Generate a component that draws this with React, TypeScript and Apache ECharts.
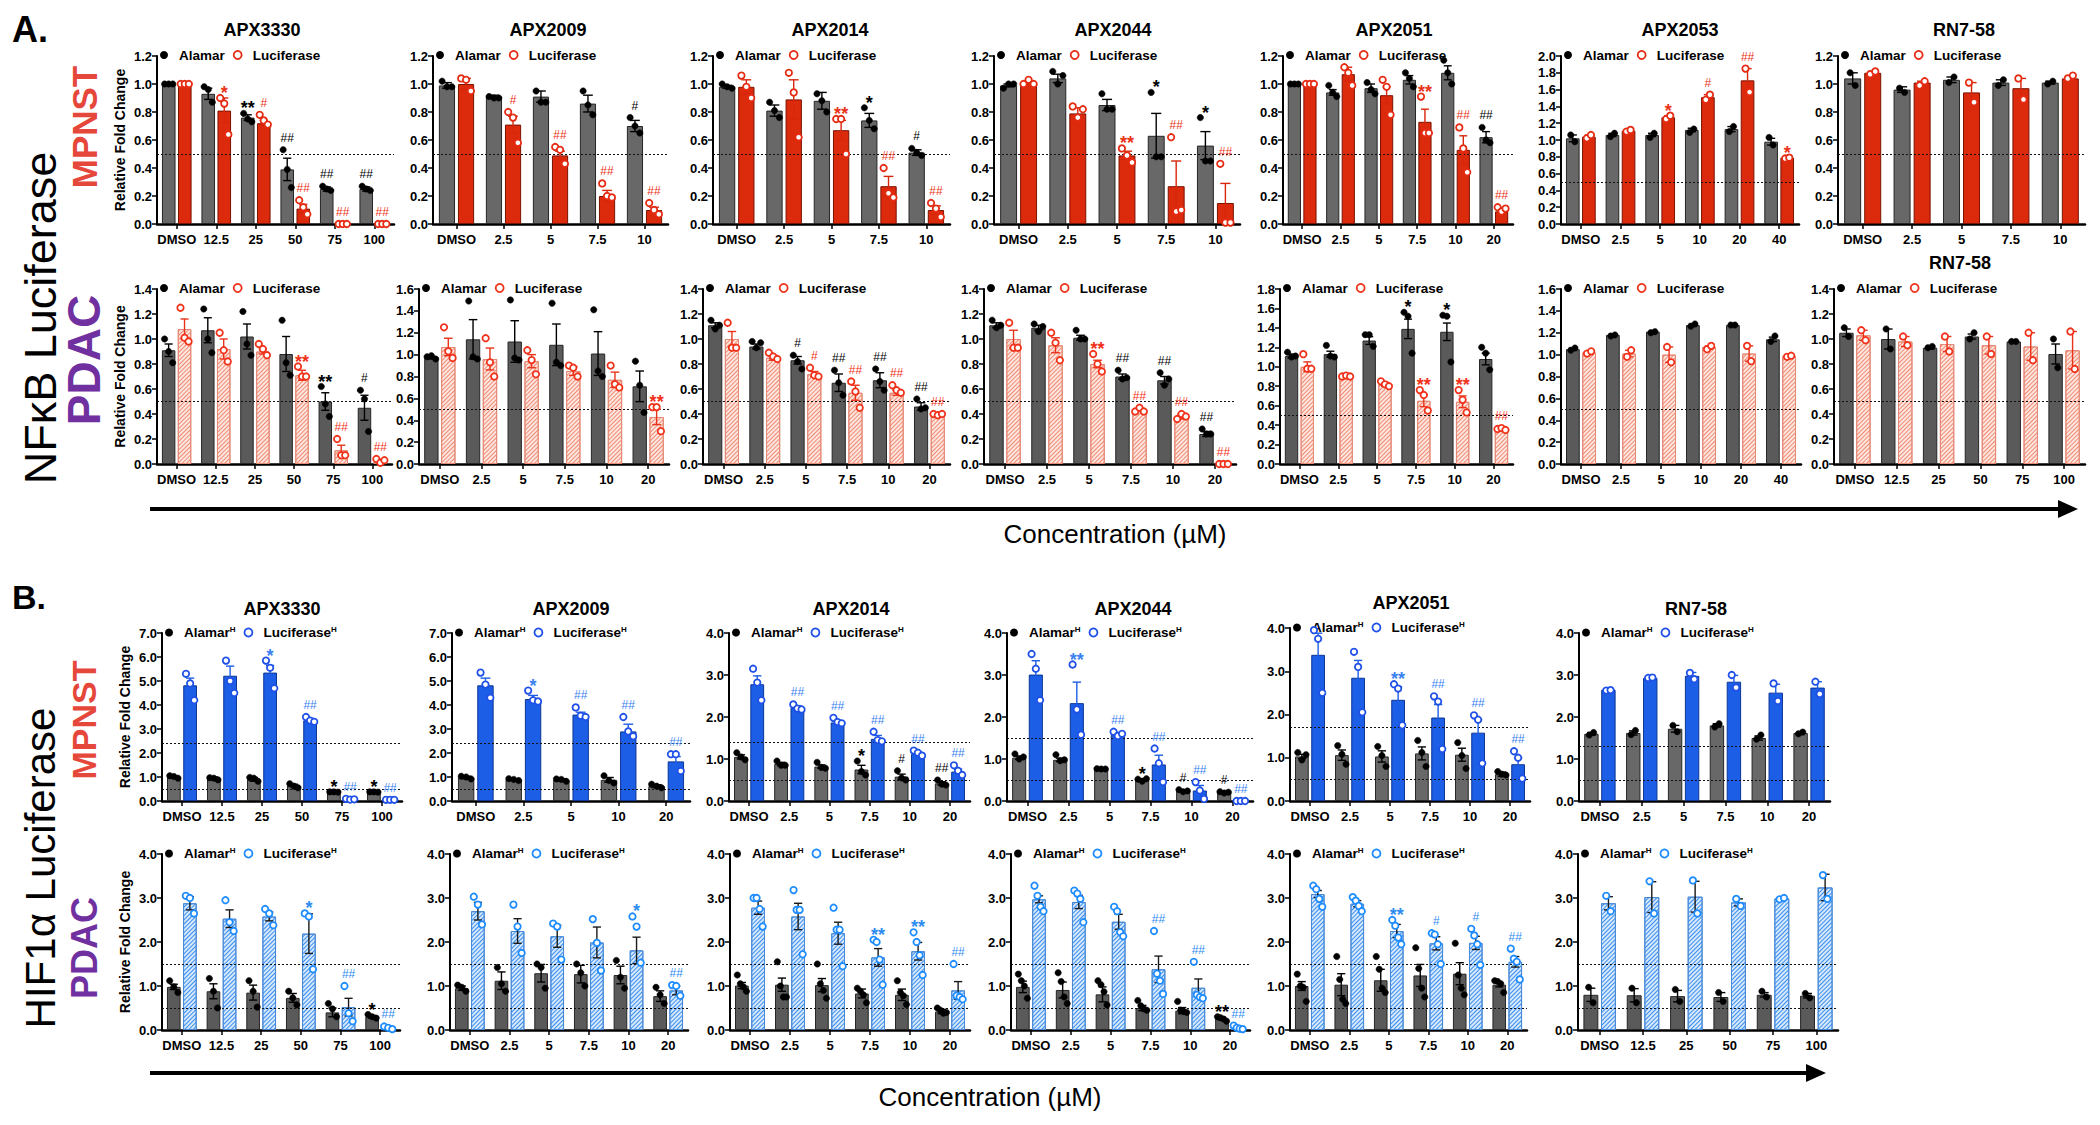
import React, { useEffect, useRef } from "react";
import * as echarts from "echarts";

// ---------------- categories ----------------
const catsHigh = ["DMSO", "12.5", "25", "50", "75", "100"];
const cats5 = ["DMSO", "2.5", "5", "7.5", "10"];
const cats6 = ["DMSO", "2.5", "5", "7.5", "10", "20"];
const cats2053 = ["DMSO", "2.5", "5", "10", "20", "40"];
const cats2009H = ["DMSO", "2.5", "5", "10", "20"];

// ---------------- NFκB luciferase, MPNST ----------------
const nm3330AlamarMean = [1.0, 0.93, 0.76, 0.39, 0.25, 0.25];
const nm3330AlamarSem = [0, 0.04, 0.02, 0.08, 0.015, 0.015];
const nm3330AlamarPts = [[1, 1, 1], [0.98, 0.96, 0.87], [0.79, 0.75, 0.73], [0.53, 0.39, 0.26], [0.27, 0.25, 0.24], [0.27, 0.25, 0.24]];
const nm3330LucMean = [1.0, 0.81, 0.72, 0.11, 0.0, 0.0];
const nm3330LucSem = [0, 0.09, 0.02, 0.03, 0, 0];
const nm3330LucPts = [[1, 1, 1], [0.9, 0.86, 0.64], [0.78, 0.74, 0.71], [0.17, 0.12, 0.07], [0, 0, 0], [0, 0, 0]];
const nm3330AlamarSig = ["", "", "**", "##", "##", "##"];
const nm3330LucSig = ["", "*", "#", "##", "##", "##"];

const nm2009AlamarMean = [0.99, 0.91, 0.91, 0.86, 0.7];
const nm2009AlamarSem = [0.02, 0.01, 0.04, 0.06, 0.04];
const nm2009AlamarPts = [[1.02, 0.98, 0.98], [0.91, 0.9, 0.9], [0.95, 0.87, 0.87], [0.95, 0.85, 0.78], [0.76, 0.7, 0.65]];
const nm2009LucMean = [1.0, 0.71, 0.49, 0.2, 0.1];
const nm2009LucSem = [0.04, 0.06, 0.03, 0.04, 0.02];
const nm2009LucPts = [[1.04, 1.03, 0.95], [0.8, 0.76, 0.58], [0.55, 0.53, 0.43], [0.29, 0.2, 0.19], [0.15, 0.1, 0.07]];
const nm2009AlamarSig = ["", "", "", "", "#"];
const nm2009LucSig = ["", "#", "##", "##", "##"];

const nm2014AlamarMean = [0.98, 0.81, 0.88, 0.74, 0.51];
const nm2014AlamarSem = [0.01, 0.04, 0.06, 0.05, 0.02];
const nm2014AlamarPts = [[1.0, 0.98, 0.97], [0.87, 0.81, 0.76], [0.93, 0.88, 0.8], [0.83, 0.74, 0.68], [0.54, 0.51, 0.49]];
const nm2014LucMean = [0.98, 0.89, 0.67, 0.27, 0.1];
const nm2014LucSem = [0.05, 0.14, 0.07, 0.07, 0.03];
const nm2014LucPts = [[1.06, 0.98, 0.9], [1.08, 0.94, 0.62], [0.75, 0.75, 0.5], [0.4, 0.22, 0.19], [0.15, 0.11, 0.05]];
const nm2014AlamarSig = ["", "", "", "*", "#"];
const nm2014LucSig = ["", "", "**", "##", "##"];

const nm2044AlamarMean = [0.99, 1.04, 0.85, 0.63, 0.56];
const nm2044AlamarSem = [0.01, 0.03, 0.04, 0.16, 0.1];
const nm2044AlamarPts = [[0.97, 1.0, 1.0], [1.09, 1.0, 1.06], [0.93, 0.82, 0.82], [0.94, 0.48, 0.48], [0.76, 0.45, 0.45]];
const nm2044LucMean = [1.01, 0.79, 0.49, 0.27, 0.15];
const nm2044LucSem = [0.01, 0.04, 0.03, 0.18, 0.14];
const nm2044LucPts = [[1.0, 1.03, 1.0], [0.84, 0.76, 0.82], [0.54, 0.49, 0.44], [0.62, 0.09, 0.1], [0.43, 0.01, 0.01]];
const nm2044AlamarSig = ["", "", "", "*", "*"];
const nm2044LucSig = ["", "", "**", "##", "##"];

const nm2051AlamarMean = [1.0, 0.94, 0.97, 1.03, 1.08, 0.62];
const nm2051AlamarSem = [0, 0.02, 0.03, 0.03, 0.05, 0.04];
const nm2051AlamarPts = [[1, 1, 1], [0.99, 0.94, 0.91], [1.01, 0.96, 0.93], [1.08, 1.04, 0.98], [1.17, 1.08, 1.0], [0.69, 0.6, 0.58]];
const nm2051LucMean = [1.0, 1.07, 0.92, 0.73, 0.53, 0.09];
const nm2051LucSem = [0, 0.05, 0.06, 0.09, 0.1, 0.02];
const nm2051LucPts = [[1, 1, 1], [1.12, 1.08, 0.99], [1.03, 0.98, 0.78], [0.91, 0.65, 0.65], [0.69, 0.54, 0.37], [0.12, 0.09, 0.11]];
const nm2051AlamarSig = ["", "", "", "", "", "##"];
const nm2051LucSig = ["", "", "", "**", "##", "##"];

const nm2053AlamarMean = [1.02, 1.06, 1.06, 1.12, 1.13, 0.98];
const nm2053AlamarSem = [0.04, 0.02, 0.02, 0.02, 0.03, 0.04];
const nm2053AlamarPts = [[1.06, 0.98], [1.04, 1.08], [1.03, 1.08], [1.09, 1.13], [1.1, 1.16], [1.03, 0.94]];
const nm2053LucMean = [1.04, 1.11, 1.27, 1.51, 1.71, 0.79];
const nm2053LucSem = [0.02, 0.01, 0.02, 0.03, 0.14, 0.01];
const nm2053LucPts = [[1.02, 1.06], [1.1, 1.12], [1.25, 1.29], [1.48, 1.54], [1.85, 1.57], [0.78, 0.79]];
const nm2053LucSig = ["", "", "*", "#", "##", "*"];

const nm758AlamarMean = [1.04, 0.96, 1.03, 1.01, 1.01];
const nm758AlamarSem = [0.04, 0.02, 0.02, 0.02, 0.01];
const nm758AlamarPts = [[1.08, 0.99], [0.97, 0.94], [1.01, 1.05], [0.99, 1.03], [1.0, 1.02]];
const nm758LucMean = [1.08, 1.01, 0.94, 0.97, 1.04];
const nm758LucSem = [0.01, 0.01, 0.07, 0.07, 0.01];
const nm758LucPts = [[1.07, 1.09], [0.99, 1.02], [1.01, 0.87], [1.04, 0.89], [1.04, 1.06]];

// ---------------- NFκB luciferase, PDAC ----------------
const np3330AlamarMean = [0.91, 1.07, 1.02, 0.88, 0.5, 0.45];
const np3330AlamarSem = [0.05, 0.1, 0.1, 0.14, 0.07, 0.1];
const np3330AlamarPts = [[1.0, 0.9, 0.81], [1.24, 1.0, 0.89], [1.22, 0.96, 0.87], [1.15, 0.81, 0.71], [0.62, 0.48, 0.38], [0.59, 0.52, 0.26]];
const np3330LucMean = [1.08, 0.92, 0.9, 0.71, 0.11, 0.02];
const np3330LucSem = [0.08, 0.08, 0.02, 0.04, 0.04, 0.01];
const np3330LucPts = [[1.25, 1.01, 0.98], [1.05, 0.91, 0.82], [0.96, 0.92, 0.87], [0.78, 0.7, 0.7], [0.2, 0.07, 0.07], [0.04, 0.01, 0.03]];
const np3330AlamarSig = ["", "", "", "", "**", "#"];
const np3330LucSig = ["", "", "", "**", "##", "##"];

const np2009AlamarMean = [0.97, 1.14, 1.12, 1.09, 1.01, 0.71];
const np2009AlamarSem = [0.01, 0.18, 0.19, 0.19, 0.2, 0.14];
const np2009AlamarPts = [[0.98, 0.99, 0.96], [1.49, 0.98, 0.96], [1.5, 0.97, 0.95], [1.47, 0.93, 0.9], [1.41, 0.85, 0.8], [0.94, 0.72, 0.47]];
const np2009LucMean = [1.07, 0.96, 0.94, 0.85, 0.77, 0.43];
const np2009LucSem = [0.08, 0.1, 0.06, 0.04, 0.07, 0.07];
const np2009LucPts = [[1.25, 1.03, 0.97], [1.15, 0.93, 0.8], [1.04, 0.95, 0.82], [0.9, 0.88, 0.8], [0.9, 0.73, 0.7], [0.52, 0.52, 0.3]];
const np2009LucSig = ["", "", "", "", "", "**"];

const np2014AlamarMean = [1.11, 0.94, 0.83, 0.65, 0.67, 0.46];
const np2014AlamarSem = [0.02, 0.02, 0.03, 0.07, 0.06, 0.03];
const np2014AlamarPts = [[1.15, 1.08, 1.11], [0.98, 0.93, 0.97], [0.87, 0.82, 0.76], [0.75, 0.65, 0.55], [0.76, 0.66, 0.59], [0.52, 0.44, 0.45]];
const np2014LucMean = [1.0, 0.85, 0.72, 0.57, 0.57, 0.4];
const np2014LucSem = [0.06, 0.02, 0.02, 0.06, 0.02, 0.01];
const np2014LucPts = [[1.13, 0.93, 0.93], [0.89, 0.86, 0.84], [0.77, 0.71, 0.7], [0.66, 0.58, 0.45], [0.63, 0.59, 0.57], [0.4, 0.39, 0.4]];
const np2014AlamarSig = ["", "", "#", "##", "##", "##"];
const np2014LucSig = ["", "", "#", "##", "##", "##"];

const np2044AlamarMean = [1.11, 1.09, 1.01, 0.7, 0.67, 0.24];
const np2044AlamarSem = [0.02, 0.02, 0.02, 0.02, 0.03, 0.02];
const np2044AlamarPts = [[1.15, 1.09, 1.11], [1.12, 1.06, 1.1], [1.07, 1.0, 1.0], [0.75, 0.68, 0.69], [0.73, 0.63, 0.68], [0.28, 0.24, 0.24]];
const np2044LucMean = [1.0, 0.95, 0.8, 0.43, 0.38, 0.0];
const np2044LucSem = [0.07, 0.06, 0.03, 0.01, 0.02, 0];
const np2044LucPts = [[1.13, 0.93, 0.93], [1.05, 0.97, 0.83], [0.88, 0.8, 0.74], [0.42, 0.45, 0.42], [0.36, 0.4, 0.38], [0, 0, 0]];
const np2044AlamarSig = ["", "", "", "##", "##", "##"];
const np2044LucSig = ["", "", "**", "##", "##", "##"];

const np2051AlamarMean = [1.11, 1.13, 1.27, 1.39, 1.36, 1.08];
const np2051AlamarSem = [0.02, 0.03, 0.04, 0.1, 0.09, 0.06];
const np2051AlamarPts = [[1.15, 1.1, 1.11], [1.22, 1.11, 1.1], [1.33, 1.33, 1.21], [1.56, 1.52, 1.14], [1.53, 1.52, 1.05], [1.2, 1.14, 0.97]];
const np2051LucMean = [1.0, 0.9, 0.82, 0.65, 0.64, 0.35];
const np2051LucSem = [0.05, 0.01, 0.02, 0.06, 0.06, 0.01];
const np2051LucPts = [[1.13, 0.98, 0.98], [0.9, 0.91, 0.9], [0.85, 0.82, 0.8], [0.76, 0.71, 0.55], [0.76, 0.66, 0.53], [0.36, 0.37, 0.35]];
const np2051AlamarSig = ["", "", "", "*", "*", ""];
const np2051LucSig = ["", "", "", "**", "**", "##"];

const np2053AlamarMean = [1.05, 1.18, 1.21, 1.27, 1.27, 1.14];
const np2053AlamarSem = [0.01, 0.01, 0.01, 0.01, 0.01, 0.02];
const np2053AlamarPts = [[1.04, 1.06], [1.17, 1.18], [1.2, 1.21], [1.26, 1.28], [1.27, 1.27], [1.12, 1.17]];
const np2053LucMean = [1.02, 1.01, 1.0, 1.07, 1.01, 0.99];
const np2053LucSem = [0.01, 0.03, 0.07, 0.01, 0.07, 0.01];
const np2053LucPts = [[1.01, 1.03], [0.98, 1.04], [1.07, 0.93], [1.05, 1.08], [1.08, 0.94], [0.98, 0.99]];

const np758AlamarMean = [1.05, 1.0, 0.93, 1.02, 0.98, 0.88];
const np758AlamarSem = [0.03, 0.08, 0.01, 0.02, 0.01, 0.08];
const np758AlamarPts = [[1.09, 1.02], [1.08, 0.92], [0.93, 0.94], [1.0, 1.05], [0.98, 0.98], [1.0, 0.77]];
const np758LucMean = [1.03, 0.98, 0.96, 0.95, 0.94, 0.91];
const np758LucSem = [0.04, 0.04, 0.06, 0.07, 0.11, 0.15];
const np758LucPts = [[1.07, 0.99], [1.02, 0.95], [1.02, 0.9], [1.02, 0.88], [1.05, 0.83], [1.06, 0.76]];

// ---------------- HIF1α luciferase, MPNST ----------------
const hm3330AlamarMean = [1.0, 0.95, 0.9, 0.65, 0.38, 0.38];
const hm3330AlamarSem = [0.05, 0.05, 0.08, 0.05, 0.02, 0.02];
const hm3330AlamarPts = [[1.05, 1.02, 0.95], [0.97, 0.95, 0.88], [0.98, 0.95, 0.82], [0.72, 0.62, 0.55], [0.38, 0.38, 0.37], [0.38, 0.38, 0.37]];
const hm3330LucMean = [4.82, 5.22, 5.35, 3.36, 0.07, 0.05];
const hm3330LucSem = [0.3, 0.4, 0.3, 0.08, 0.01, 0.01];
const hm3330LucPts = [[5.3, 4.9, 4.2], [5.85, 5.0, 4.5], [5.85, 5.55, 4.7], [3.5, 3.35, 3.3], [0.09, 0.06, 0.07], [0.05, 0.05, 0.05]];
const hm3330AlamarSig = ["", "", "", "", "*", "*"];
const hm3330LucSig = ["", "", "*", "##", "##", "##"];

const hm2009AlamarMean = [0.98, 0.9, 0.88, 0.88, 0.62];
const hm2009AlamarSem = [0.05, 0.03, 0.05, 0.1, 0.06];
const hm2009AlamarPts = [[1.03, 1.0, 0.92], [0.93, 0.9, 0.85], [0.92, 0.9, 0.82], [1.05, 0.85, 0.75], [0.7, 0.62, 0.55]];
const hm2009LucMean = [4.82, 4.25, 3.6, 2.9, 1.65];
const hm2009LucSem = [0.3, 0.15, 0.1, 0.3, 0.2];
const hm2009LucPts = [[5.35, 4.85, 4.3], [4.6, 4.2, 4.15], [3.9, 3.55, 3.5], [3.5, 2.9, 2.7], [1.95, 1.95, 1.25]];
const hm2009LucSig = ["", "*", "##", "##", "##"];

const hm2014AlamarMean = [1.05, 0.88, 0.82, 0.75, 0.58, 0.42];
const hm2014AlamarSem = [0.05, 0.04, 0.04, 0.1, 0.06, 0.04];
const hm2014AlamarPts = [[1.15, 1.05, 0.98], [0.95, 0.85, 0.85], [0.92, 0.8, 0.78], [0.95, 0.7, 0.62], [0.72, 0.55, 0.5], [0.5, 0.4, 0.38]];
const hm2014LucMean = [2.78, 2.22, 1.87, 1.48, 1.12, 0.7];
const hm2014LucSem = [0.2, 0.05, 0.05, 0.08, 0.05, 0.06];
const hm2014LucPts = [[3.15, 2.82, 2.4], [2.3, 2.2, 2.18], [1.98, 1.88, 1.85], [1.65, 1.45, 1.42], [1.2, 1.15, 1.08], [0.85, 0.72, 0.62]];
const hm2014AlamarSig = ["", "", "", "*", "#", "##"];
const hm2014LucSig = ["", "##", "##", "##", "##", "##"];

const hm2044AlamarMean = [1.03, 0.98, 0.76, 0.5, 0.24, 0.2];
const hm2044AlamarSem = [0.04, 0.04, 0.01, 0.03, 0.02, 0.02];
const hm2044AlamarPts = [[1.12, 1.0, 1.05], [1.1, 0.96, 0.98], [0.77, 0.76, 0.76], [0.52, 0.47, 0.53], [0.27, 0.22, 0.24], [0.22, 0.19, 0.21]];
const hm2044LucMean = [3.01, 2.33, 1.58, 0.87, 0.25, 0.0];
const hm2044LucSem = [0.33, 0.5, 0.05, 0.22, 0.12, 0];
const hm2044LucPts = [[3.5, 3.15, 2.4], [3.25, 2.18, 1.58], [1.65, 1.55, 1.6], [1.25, 0.9, 0.45], [0.45, 0.25, 0.05], [0, 0, 0]];
const hm2044AlamarSig = ["", "", "", "*", "#", "#"];
const hm2044LucSig = ["", "**", "##", "##", "##", "##"];

const hm2051AlamarMean = [1.03, 1.06, 1.03, 1.1, 1.07, 0.62];
const hm2051AlamarSem = [0.05, 0.12, 0.13, 0.15, 0.15, 0.05];
const hm2051AlamarPts = [[1.12, 0.95, 1.07], [1.28, 1.08, 0.85], [1.26, 1.05, 0.8], [1.4, 1.12, 0.8], [1.35, 1.05, 0.75], [0.68, 0.62, 0.6]];
const hm2051LucMean = [3.38, 2.85, 2.34, 1.93, 1.58, 0.85];
const hm2051LucSem = [0.5, 0.4, 0.3, 0.3, 0.3, 0.15];
const hm2051LucPts = [[3.95, 3.75, 2.5], [3.45, 3.1, 2.05], [2.7, 2.6, 1.75], [2.42, 2.3, 1.2], [1.98, 1.88, 0.87], [1.15, 1.0, 0.52]];
const hm2051LucSig = ["", "", "**", "##", "##", "##"];

const hm758AlamarMean = [1.6, 1.62, 1.72, 1.8, 1.5, 1.62];
const hm758AlamarSem = [0.03, 0.05, 0.08, 0.04, 0.05, 0.02];
const hm758AlamarPts = [[1.57, 1.63], [1.58, 1.68], [1.8, 1.65], [1.76, 1.84], [1.47, 1.57], [1.6, 1.64]];
const hm758LucMean = [2.65, 2.93, 2.98, 2.84, 2.58, 2.7];
const hm758LucSem = [0.01, 0.01, 0.08, 0.15, 0.2, 0.14];
const hm758LucPts = [[2.63, 2.64], [2.93, 2.94], [3.05, 2.9], [3.0, 2.7], [2.8, 2.38], [2.84, 2.55]];

// ---------------- HIF1α luciferase, PDAC ----------------
const hp3330AlamarMean = [0.98, 0.88, 0.85, 0.73, 0.4, 0.3];
const hp3330AlamarSem = [0.06, 0.17, 0.17, 0.1, 0.1, 0.03];
const hp3330AlamarPts = [[1.12, 0.98, 0.85], [1.17, 0.88, 0.5], [1.12, 0.88, 0.52], [0.88, 0.73, 0.57], [0.6, 0.48, 0.3], [0.35, 0.3, 0.27]];
const hp3330LucMean = [2.88, 2.53, 2.58, 2.19, 0.52, 0.05];
const hp3330LucSem = [0.15, 0.2, 0.1, 0.45, 0.2, 0.03];
const hp3330LucPts = [[3.05, 3.0, 2.65], [2.95, 2.45, 2.25], [2.75, 2.65, 2.38], [2.65, 2.58, 1.38], [1.0, 0.38, 0.2], [0.08, 0.05, 0.02]];
const hp3330AlamarSig = ["", "", "", "", "", "*"];
const hp3330LucSig = ["", "", "", "*", "##", "##"];

const hp2009AlamarMean = [0.95, 1.12, 1.29, 1.27, 1.25, 0.77];
const hp2009AlamarSem = [0.05, 0.2, 0.2, 0.2, 0.2, 0.12];
const hp2009AlamarPts = [[1.02, 0.97, 0.88], [1.42, 1.05, 0.88], [1.5, 1.42, 0.95], [1.5, 1.3, 1.0], [1.58, 1.2, 0.95], [0.97, 0.8, 0.6]];
const hp2009LucMean = [2.7, 2.25, 2.13, 1.99, 1.81, 0.9];
const hp2009LucSem = [0.2, 0.28, 0.25, 0.35, 0.3, 0.1];
const hp2009LucPts = [[3.03, 2.85, 2.4], [2.85, 2.35, 1.75], [2.42, 2.35, 1.6], [2.52, 1.98, 1.35], [2.58, 2.35, 1.53], [1.02, 1.0, 0.78]];
const hp2009LucSig = ["", "", "", "", "*", "##"];

const hp2014AlamarMean = [1.01, 1.03, 1.02, 0.83, 0.8, 0.42];
const hp2014AlamarSem = [0.07, 0.15, 0.15, 0.1, 0.13, 0.05];
const hp2014AlamarPts = [[1.25, 1.05, 0.98, 0.88], [1.55, 1.0, 0.75, 0.75], [1.5, 1.05, 0.9, 0.72], [0.95, 0.88, 0.8, 0.62], [1.12, 0.85, 0.78, 0.58], [0.5, 0.45, 0.38, 0.4]];
const hp2014LucMean = [2.78, 2.58, 2.2, 1.65, 1.79, 0.9];
const hp2014LucSem = [0.15, 0.3, 0.25, 0.2, 0.2, 0.2];
const hp2014LucPts = [[3.0, 3.0, 2.75, 2.35], [3.18, 2.73, 2.73, 1.72], [2.78, 2.28, 2.28, 1.45], [2.05, 2.0, 1.6, 1.03], [2.22, 2.0, 1.7, 1.25], [1.5, 0.78, 0.75, 0.7]];
const hp2014LucSig = ["", "", "", "**", "**", "##"];

const hp2044AlamarMean = [0.98, 0.91, 0.81, 0.5, 0.44, 0.26];
const hp2044AlamarSem = [0.13, 0.18, 0.17, 0.06, 0.07, 0.03];
const hp2044AlamarPts = [[1.27, 1.12, 1.0, 0.72], [1.3, 1.1, 0.75, 0.6], [1.12, 1.03, 0.87, 0.57], [0.67, 0.55, 0.48, 0.45], [0.65, 0.45, 0.42, 0.4], [0.3, 0.28, 0.25, 0.2]];
const hp2044LucMean = [2.97, 2.91, 2.46, 1.38, 0.96, 0.05];
const hp2044LucSem = [0.08, 0.15, 0.17, 0.3, 0.2, 0.02];
const hp2044LucPts = [[3.28, 3.05, 2.8, 2.7], [3.17, 3.1, 2.98, 2.45], [2.8, 2.7, 2.22, 2.13], [2.25, 1.28, 1.12, 0.82], [1.55, 0.8, 0.75, 0.72], [0.1, 0.05, 0.03, 0.02]];
const hp2044AlamarSig = ["", "", "", "", "", "**"];
const hp2044LucSig = ["", "", "", "##", "##", "##"];

const hp2051AlamarMean = [1.0, 1.03, 1.13, 1.24, 1.28, 1.03];
const hp2051AlamarSem = [0.1, 0.25, 0.25, 0.25, 0.25, 0.05];
const hp2051AlamarPts = [[1.27, 1.0, 0.97, 0.65], [1.67, 1.15, 0.7, 0.6], [1.67, 1.38, 0.95, 0.85], [1.87, 1.4, 0.95, 0.75], [1.97, 1.25, 0.95, 0.8], [1.12, 1.1, 1.05, 0.85]];
const hp2051LucMean = [3.09, 2.87, 2.25, 1.97, 1.98, 1.55];
const hp2051LucSem = [0.08, 0.07, 0.15, 0.15, 0.15, 0.12];
const hp2051LucPts = [[3.28, 3.2, 2.98, 2.8], [3.02, 2.94, 2.82, 2.7], [2.5, 2.37, 2.1, 1.95], [2.2, 2.17, 1.95, 1.5], [2.3, 2.15, 1.95, 1.48], [1.85, 1.62, 1.55, 1.15]];
const hp2051LucSig = ["", "", "**", "#", "#", "##"];

const hp758AlamarMean = [0.8, 0.79, 0.77, 0.75, 0.8, 0.78];
const hp758AlamarSem = [0.15, 0.15, 0.13, 0.1, 0.05, 0.05];
const hp758AlamarPts = [[0.97, 0.62], [0.95, 0.62], [0.92, 0.65], [0.85, 0.65], [0.88, 0.75], [0.83, 0.73]];
const hp758LucMean = [2.88, 3.02, 3.03, 2.9, 2.99, 3.24];
const hp758LucSem = [0.15, 0.35, 0.35, 0.08, 0.02, 0.3];
const hp758LucPts = [[3.05, 2.7], [3.38, 2.65], [3.4, 2.65], [2.98, 2.82], [2.97, 3.0], [3.52, 2.98]];

// ---------------- style & layout ----------------
const FONT = "'Liberation Sans', Arial, Helvetica, sans-serif";
const CAT_GAP = 0.25;
const BAR_GAP = 0.18;

const STYLE: any = {
  nm: { aFill: "#686868", lFill: "#dc2a0c", lBorder: "#7a1200", decal: null, lPt: "#e52b12", lErr: "#d8260c", sig: "#ea3319", sup: false },
  np: { aFill: "#5a5a5a", lFill: "#fde6e0", lBorder: "#e48a76", decal: "#f08a72", lPt: "#f0321a", lErr: "#e8321a", sig: "#f0321a", sup: false },
  hm: { aFill: "#686868", lFill: "#1c5ee6", lBorder: "#0c3594", decal: null, lPt: "#1f50e8", lErr: "#1c5ee6", sig: "#3b82f0", sup: true },
  hp: { aFill: "#5a5a5a", lFill: "#d6e8fc", lBorder: "#4a8ad6", decal: "#3a8ef0", lPt: "#1e8cff", lErr: "#1a1a1a", sig: "#2f8cf0", sup: true },
};

const PANELS: any[] = [
  // NFκB MPNST
  { kind: "nm", title: "APX3330", tx: 262, ty: 30, cats: catsHigh, L: 157, R: 394, T: 56, B: 224, max: 1.2, step: 0.2, refs: [0.5], yName: true,
    am: nm3330AlamarMean, as: nm3330AlamarSem, ap: nm3330AlamarPts, lm: nm3330LucMean, ls: nm3330LucSem, lp: nm3330LucPts, asig: nm3330AlamarSig, lsig: nm3330LucSig },
  { kind: "nm", title: "APX2009", tx: 548, ty: 30, cats: cats5, L: 433, R: 668, T: 56, B: 224, max: 1.2, step: 0.2, refs: [0.5],
    am: nm2009AlamarMean, as: nm2009AlamarSem, ap: nm2009AlamarPts, lm: nm2009LucMean, ls: nm2009LucSem, lp: nm2009LucPts, asig: nm2009AlamarSig, lsig: nm2009LucSig },
  { kind: "nm", title: "APX2014", tx: 830, ty: 30, cats: cats5, L: 713, R: 950, T: 56, B: 224, max: 1.2, step: 0.2, refs: [0.5],
    am: nm2014AlamarMean, as: nm2014AlamarSem, ap: nm2014AlamarPts, lm: nm2014LucMean, ls: nm2014LucSem, lp: nm2014LucPts, asig: nm2014AlamarSig, lsig: nm2014LucSig },
  { kind: "nm", title: "APX2044", tx: 1113, ty: 30, cats: cats5, L: 994, R: 1240, T: 56, B: 224, max: 1.2, step: 0.2, refs: [0.5],
    am: nm2044AlamarMean, as: nm2044AlamarSem, ap: nm2044AlamarPts, lm: nm2044LucMean, ls: nm2044LucSem, lp: nm2044LucPts, asig: nm2044AlamarSig, lsig: nm2044LucSig },
  { kind: "nm", title: "APX2051", tx: 1394, ty: 30, cats: cats6, L: 1283, R: 1513, T: 56, B: 224, max: 1.2, step: 0.2, refs: [0.5],
    am: nm2051AlamarMean, as: nm2051AlamarSem, ap: nm2051AlamarPts, lm: nm2051LucMean, ls: nm2051LucSem, lp: nm2051LucPts, asig: nm2051AlamarSig, lsig: nm2051LucSig },
  { kind: "nm", title: "APX2053", tx: 1680, ty: 30, cats: cats2053, L: 1561, R: 1799, T: 56, B: 224, max: 2.0, step: 0.2, refs: [0.5],
    am: nm2053AlamarMean, as: nm2053AlamarSem, ap: nm2053AlamarPts, lm: nm2053LucMean, ls: nm2053LucSem, lp: nm2053LucPts, lsig: nm2053LucSig },
  { kind: "nm", title: "RN7-58", tx: 1964, ty: 30, cats: cats5, L: 1838, R: 2085, T: 56, B: 224, max: 1.2, step: 0.2, refs: [0.5],
    am: nm758AlamarMean, as: nm758AlamarSem, ap: nm758AlamarPts, lm: nm758LucMean, ls: nm758LucSem, lp: nm758LucPts },
  // NFκB PDAC
  { kind: "np", cats: catsHigh, L: 157, R: 392, T: 289, B: 464, max: 1.4, step: 0.2, refs: [0.5], yName: true,
    am: np3330AlamarMean, as: np3330AlamarSem, ap: np3330AlamarPts, lm: np3330LucMean, ls: np3330LucSem, lp: np3330LucPts, asig: np3330AlamarSig, lsig: np3330LucSig },
  { kind: "np", cats: cats6, L: 419, R: 669, T: 289, B: 464, max: 1.6, step: 0.2, refs: [0.5],
    am: np2009AlamarMean, as: np2009AlamarSem, ap: np2009AlamarPts, lm: np2009LucMean, ls: np2009LucSem, lp: np2009LucPts, lsig: np2009LucSig },
  { kind: "np", cats: cats6, L: 703, R: 950, T: 289, B: 464, max: 1.4, step: 0.2, refs: [0.5],
    am: np2014AlamarMean, as: np2014AlamarSem, ap: np2014AlamarPts, lm: np2014LucMean, ls: np2014LucSem, lp: np2014LucPts, asig: np2014AlamarSig, lsig: np2014LucSig },
  { kind: "np", cats: cats6, L: 984, R: 1236, T: 289, B: 464, max: 1.4, step: 0.2, refs: [0.5],
    am: np2044AlamarMean, as: np2044AlamarSem, ap: np2044AlamarPts, lm: np2044LucMean, ls: np2044LucSem, lp: np2044LucPts, asig: np2044AlamarSig, lsig: np2044LucSig },
  { kind: "np", cats: cats6, L: 1280, R: 1513, T: 289, B: 464, max: 1.8, step: 0.2, refs: [0.5],
    am: np2051AlamarMean, as: np2051AlamarSem, ap: np2051AlamarPts, lm: np2051LucMean, ls: np2051LucSem, lp: np2051LucPts, asig: np2051AlamarSig, lsig: np2051LucSig },
  { kind: "np", cats: cats2053, L: 1561, R: 1801, T: 289, B: 464, max: 1.6, step: 0.2, refs: [0.5],
    am: np2053AlamarMean, as: np2053AlamarSem, ap: np2053AlamarPts, lm: np2053LucMean, ls: np2053LucSem, lp: np2053LucPts },
  { kind: "np", title: "RN7-58", tx: 1960, ty: 263, cats: catsHigh, L: 1834, R: 2085, T: 289, B: 464, max: 1.4, step: 0.2, refs: [0.5],
    am: np758AlamarMean, as: np758AlamarSem, ap: np758AlamarPts, lm: np758LucMean, ls: np758LucSem, lp: np758LucPts },
  // HIF1α MPNST
  { kind: "hm", title: "APX3330", tx: 282, ty: 609, cats: catsHigh, L: 162, R: 402, T: 633, B: 801, max: 7, step: 1, refs: [2.4, 0.5], yName: true,
    am: hm3330AlamarMean, as: hm3330AlamarSem, ap: hm3330AlamarPts, lm: hm3330LucMean, ls: hm3330LucSem, lp: hm3330LucPts, asig: hm3330AlamarSig, lsig: hm3330LucSig },
  { kind: "hm", title: "APX2009", tx: 571, ty: 609, cats: cats2009H, L: 452, R: 690, T: 633, B: 801, max: 7, step: 1, refs: [2.4, 0.5],
    am: hm2009AlamarMean, as: hm2009AlamarSem, ap: hm2009AlamarPts, lm: hm2009LucMean, ls: hm2009LucSem, lp: hm2009LucPts, lsig: hm2009LucSig },
  { kind: "hm", title: "APX2014", tx: 851, ty: 609, cats: cats6, L: 729, R: 970, T: 633, B: 801, max: 4, step: 1, refs: [1.4, 0.5],
    am: hm2014AlamarMean, as: hm2014AlamarSem, ap: hm2014AlamarPts, lm: hm2014LucMean, ls: hm2014LucSem, lp: hm2014LucPts, asig: hm2014AlamarSig, lsig: hm2014LucSig },
  { kind: "hm", title: "APX2044", tx: 1133, ty: 609, cats: cats6, L: 1007, R: 1253, T: 633, B: 801, max: 4, step: 1, refs: [1.5, 0.5],
    am: hm2044AlamarMean, as: hm2044AlamarSem, ap: hm2044AlamarPts, lm: hm2044LucMean, ls: hm2044LucSem, lp: hm2044LucPts, asig: hm2044AlamarSig, lsig: hm2044LucSig },
  { kind: "hm", title: "APX2051", tx: 1411, ty: 603, cats: cats6, L: 1290, R: 1530, T: 628, B: 801, max: 4, step: 1, refs: [1.7, 0.5],
    am: hm2051AlamarMean, as: hm2051AlamarSem, ap: hm2051AlamarPts, lm: hm2051LucMean, ls: hm2051LucSem, lp: hm2051LucPts, lsig: hm2051LucSig },
  { kind: "hm", title: "RN7-58", tx: 1696, ty: 609, cats: cats6, L: 1579, R: 1830, T: 633, B: 801, max: 4, step: 1, refs: [1.3, 0.5],
    am: hm758AlamarMean, as: hm758AlamarSem, ap: hm758AlamarPts, lm: hm758LucMean, ls: hm758LucSem, lp: hm758LucPts },
  // HIF1α PDAC
  { kind: "hp", cats: catsHigh, L: 162, R: 400, T: 854, B: 1030, max: 4, step: 1, refs: [1.5, 0.5], yName: true,
    am: hp3330AlamarMean, as: hp3330AlamarSem, ap: hp3330AlamarPts, lm: hp3330LucMean, ls: hp3330LucSem, lp: hp3330LucPts, asig: hp3330AlamarSig, lsig: hp3330LucSig },
  { kind: "hp", cats: cats6, L: 450, R: 688, T: 854, B: 1030, max: 4, step: 1, refs: [1.5, 0.5],
    am: hp2009AlamarMean, as: hp2009AlamarSem, ap: hp2009AlamarPts, lm: hp2009LucMean, ls: hp2009LucSem, lp: hp2009LucPts, lsig: hp2009LucSig },
  { kind: "hp", cats: cats6, L: 730, R: 970, T: 854, B: 1030, max: 4, step: 1, refs: [1.5, 0.5],
    am: hp2014AlamarMean, as: hp2014AlamarSem, ap: hp2014AlamarPts, lm: hp2014LucMean, ls: hp2014LucSem, lp: hp2014LucPts, lsig: hp2014LucSig },
  { kind: "hp", cats: cats6, L: 1011, R: 1250, T: 854, B: 1030, max: 4, step: 1, refs: [1.5, 0.5],
    am: hp2044AlamarMean, as: hp2044AlamarSem, ap: hp2044AlamarPts, lm: hp2044LucMean, ls: hp2044LucSem, lp: hp2044LucPts, asig: hp2044AlamarSig, lsig: hp2044LucSig },
  { kind: "hp", cats: cats6, L: 1290, R: 1527, T: 854, B: 1030, max: 4, step: 1, refs: [1.5, 0.5],
    am: hp2051AlamarMean, as: hp2051AlamarSem, ap: hp2051AlamarPts, lm: hp2051LucMean, ls: hp2051LucSem, lp: hp2051LucPts, lsig: hp2051LucSig },
  { kind: "hp", cats: catsHigh, L: 1578, R: 1838, T: 854, B: 1030, max: 4, step: 1, refs: [1.5, 0.5],
    am: hp758AlamarMean, as: hp758AlamarSem, ap: hp758AlamarPts, lm: hp758LucMean, ls: hp758LucSem, lp: hp758LucPts },
];

function overlay(g: number, side: number, means: number[], sems: number[], pts: number[][], sigs: string[] | undefined,
  filled: boolean, ptColor: string, errColor: string, sigColor: string) {
  return {
    type: "custom",
    xAxisIndex: g,
    yAxisIndex: g,
    silent: true,
    clip: false,
    z: 5,
    data: means.map((m, i) => [i, m]),
    renderItem: (params: any, api: any) => {
      const i = params.dataIndex;
      const c = api.coord([i, 0]);
      const band = api.size([1, 0])[0];
      const bw = (band * (1 - CAT_GAP)) / (2 + BAR_GAP);
      const x = c[0] + side * (bw / 2 + (bw * BAR_GAP) / 2);
      const m = means[i];
      const e = sems[i] || 0;
      const children: any[] = [];
      let top = api.coord([i, m])[1];
      if (e > 0) {
        const yT = api.coord([i, m + e])[1];
        const yB = api.coord([i, Math.max(0, m - e)])[1];
        const cap = bw * 0.3;
        const s = { stroke: errColor, lineWidth: 1.4, fill: null };
        children.push({ type: "line", shape: { x1: x, y1: yT, x2: x, y2: yB }, style: s });
        children.push({ type: "line", shape: { x1: x - cap, y1: yT, x2: x + cap, y2: yT }, style: s });
        children.push({ type: "line", shape: { x1: x - cap, y1: yB, x2: x + cap, y2: yB }, style: s });
        top = Math.min(top, yT);
      }
      const p = pts[i] || [];
      const n = p.length;
      const step = n >= 4 ? bw * 0.22 : bw * 0.3;
      p.forEach((v, k) => {
        const py = api.coord([i, v])[1];
        const px = x + (k - (n - 1) / 2) * step;
        children.push({
          type: "circle",
          shape: { cx: px, cy: py, r: 3.2 },
          style: filled ? { fill: ptColor, stroke: ptColor, lineWidth: 0.5 } : { fill: "#ffffff", stroke: ptColor, lineWidth: 1.8 },
        });
        top = Math.min(top, py - 3);
      });
      const sg = sigs ? sigs[i] : "";
      if (sg) {
        const star = sg.indexOf("*") >= 0;
        children.push({
          type: "text",
          x,
          y: star ? top - 2 : top - 9,
          style: {
            text: sg,
            fill: sigColor,
            font: star ? `bold 18px ${FONT}` : `12px ${FONT}`,
            textAlign: "center",
            textVerticalAlign: "middle",
            align: "center",
            verticalAlign: "middle",
          },
        });
      }
      return { type: "group", children };
    },
  };
}

function txt(text: string, x: number, y: number, font: string, fill: string, align = "center", rotation = 0) {
  return {
    type: "text",
    x,
    y,
    rotation,
    silent: true,
    style: { text, font, fill, textAlign: align, textVerticalAlign: "middle", align, verticalAlign: "middle" },
  };
}

function buildOption() {
  const grid: any[] = [];
  const xAxis: any[] = [];
  const yAxis: any[] = [];
  const series: any[] = [];
  const legend: any[] = [];
  const graphic: any[] = [];

  PANELS.forEach((p, g) => {
    const st = STYLE[p.kind];
    grid.push({ left: p.L, top: p.T, width: p.R - p.L, height: p.B - p.T });
    xAxis.push({
      type: "category",
      gridIndex: g,
      data: p.cats,
      axisLine: { lineStyle: { color: "#000", width: 2.5 } },
      axisTick: { show: true, alignWithLabel: true, length: 5, lineStyle: { color: "#000", width: 1.5 } },
      axisLabel: { color: "#000", fontWeight: "bold", fontSize: 13, fontFamily: FONT, margin: 9, interval: 0 },
    });
    yAxis.push({
      type: "value",
      gridIndex: g,
      min: 0,
      max: p.max,
      interval: p.step,
      axisLine: { show: true, lineStyle: { color: "#000", width: 2 } },
      axisTick: { show: true, length: 5, lineStyle: { color: "#000", width: 1.5 } },
      splitLine: { show: false },
      axisLabel: { color: "#000", fontWeight: "bold", fontSize: 13, fontFamily: FONT, margin: 5, formatter: (v: number) => v.toFixed(1) },
      name: p.yName ? "Relative Fold Change" : "",
      nameLocation: "middle",
      nameGap: 30,
      nameTextStyle: { color: "#000", fontWeight: "bold", fontSize: 14, fontFamily: FONT },
    });
    series.push({
      type: "bar",
      name: "Alamar",
      xAxisIndex: g,
      yAxisIndex: g,
      data: p.am,
      barGap: `${BAR_GAP * 100}%`,
      barCategoryGap: `${CAT_GAP * 100}%`,
      itemStyle: { color: st.aFill, borderColor: "#262626", borderWidth: 1 },
      z: 2,
      markLine: {
        silent: true,
        symbol: "none",
        label: { show: false },
        lineStyle: { color: "#111", type: [2, 2], width: 1.2 },
        data: p.refs.map((v: number) => ({ yAxis: v })),
        z: 4,
      },
    });
    const lucStyle: any = { color: st.lFill, borderColor: st.lBorder, borderWidth: 1 };
    if (st.decal) {
      lucStyle.decal = {
        symbol: "rect",
        symbolSize: 1,
        color: st.decal,
        dashArrayX: [1, 0],
        dashArrayY: [0.9, 1.6],
        rotation: -Math.PI / 4,
      };
    }
    series.push({
      type: "bar",
      name: "Luciferase",
      xAxisIndex: g,
      yAxisIndex: g,
      data: p.lm,
      barGap: `${BAR_GAP * 100}%`,
      barCategoryGap: `${CAT_GAP * 100}%`,
      itemStyle: lucStyle,
      z: 2,
    });
    series.push(overlay(g, -1, p.am, p.as, p.ap, p.asig, true, "#000", "#000", "#000"));
    series.push(overlay(g, 1, p.lm, p.ls, p.lp, p.lsig, false, st.lPt, st.lErr, st.sig));

    legend.push({
      left: p.L + 3,
      top: p.T - 8,
      padding: 0,
      itemGap: 8,
      itemWidth: 8,
      itemHeight: 8,
      selectedMode: false,
      icon: "circle",
      data: [
        { name: "Alamar", icon: "circle", itemStyle: { color: "#000", borderWidth: 0, decal: "none" } },
        { name: "Luciferase", icon: "circle", itemStyle: { color: "#ffffff", borderColor: st.lPt, borderWidth: 1.8, decal: "none" } },
      ],
      formatter: st.sup ? (n: string) => `{n|${n}}{s|H}` : (n: string) => n,
      textStyle: {
        color: "#000",
        fontWeight: "bold",
        fontSize: 13.5,
        fontFamily: FONT,
        padding: [0, 0, 0, 6],
        rich: {
          n: { color: "#000", fontWeight: "bold", fontSize: 13.5, fontFamily: FONT },
          s: { color: "#000", fontWeight: "bold", fontSize: 8, fontFamily: FONT, padding: [0, 0, 7, 0] },
        },
      },
    });

    if (p.title) graphic.push(txt(p.title, p.tx, p.ty, `bold 18px ${FONT}`, "#000"));
  });

  // panel letters
  graphic.push(txt("A.", 12, 29, `bold 36px ${FONT}`, "#000", "left"));
  graphic.push(txt("B.", 12, 597, `bold 34px ${FONT}`, "#000", "left"));
  // row labels (rotated)
  const rot = Math.PI / 2;
  graphic.push(txt("NFκB Luciferase", 40, 318, `45px ${FONT}`, "#000", "center", rot));
  graphic.push(txt("MPNST", 84, 127, `bold 35px ${FONT}`, "#e5473b", "center", rot));
  graphic.push(txt("PDAC", 84, 360, `bold 46px ${FONT}`, "#7030a0", "center", rot));
  graphic.push(txt("HIF1α Luciferase", 40, 868, `42px ${FONT}`, "#000", "center", rot));
  graphic.push(txt("MPNST", 84, 720, `bold 34px ${FONT}`, "#e5473b", "center", rot));
  graphic.push(txt("PDAC", 84, 948, `bold 36px ${FONT}`, "#7030a0", "center", rot));
  // arrows
  graphic.push({ type: "line", silent: true, shape: { x1: 150, y1: 509, x2: 2062, y2: 509 }, style: { stroke: "#000", lineWidth: 4 } });
  graphic.push({ type: "polygon", silent: true, shape: { points: [[2058, 500], [2078, 509], [2058, 518]] }, style: { fill: "#000" } });
  graphic.push({ type: "line", silent: true, shape: { x1: 150, y1: 1073, x2: 1810, y2: 1073 }, style: { stroke: "#000", lineWidth: 4 } });
  graphic.push({ type: "polygon", silent: true, shape: { points: [[1806, 1064], [1826, 1073], [1806, 1082]] }, style: { fill: "#000" } });
  graphic.push(txt("Concentration (µM)", 1115, 534, `26px ${FONT}`, "#000"));
  graphic.push(txt("Concentration (µM)", 990, 1097, `26px ${FONT}`, "#000"));

  return {
    animation: false,
    backgroundColor: "#ffffff",
    textStyle: { fontFamily: FONT },
    grid,
    xAxis,
    yAxis,
    series,
    legend,
    graphic,
  };
}

export default function App() {
  const ref = useRef<HTMLDivElement>(null);
  useEffect(() => {
    if (!ref.current) return;
    const chart = echarts.init(ref.current, null, { renderer: "svg" });
    chart.setOption(buildOption() as any);
    return () => chart.dispose();
  }, []);
  return <div ref={ref} style={{ position: "absolute", left: 0, top: 0, width: 2100, height: 1125, background: "#fff" }} />;
}
